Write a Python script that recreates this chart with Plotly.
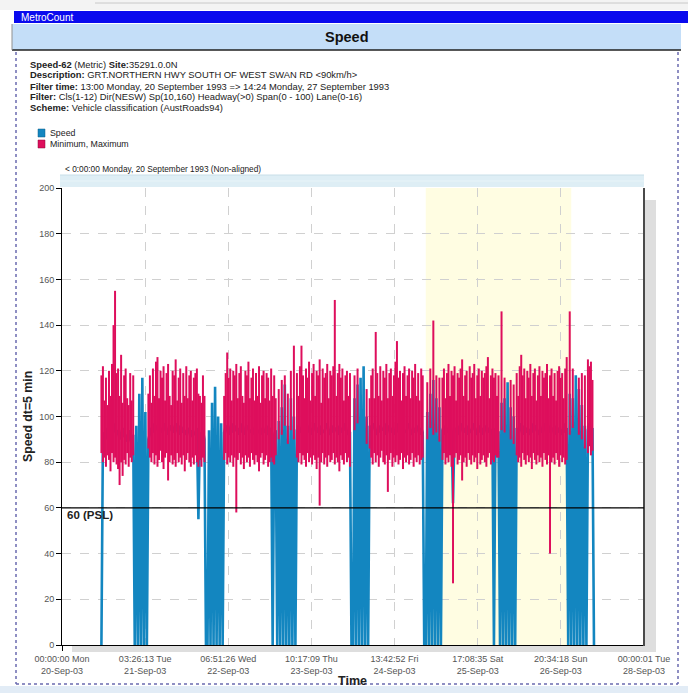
import plotly.graph_objects as go

# ---------------- DATA (5-min speed, aggregated to 30-min bins) ----------------
BIN_H = 0.5  # hours per bin

# Day start hours (from 00:00 Mon 20-Sep)
start_mon20, start_tue21, start_wed22, start_thu23 = 13.0, 24.0, 48.0, 72.0
start_fri24, start_sat25, start_sun26, start_mon27 = 96.0, 120.0, 144.0, 168.0

speed_mon20 = [0, 91, 93, 90, 95, 92, 94, 96, 93, 97, 92, 94, 90, 93, 95, 91, 92, 89, 94, 90, 88, 92]
max_mon20 = [118, 122, 107, 117, 105, 120, 109, 123, 140, 155, 119, 121, 109, 127, 106, 118, 121, 108, 105, 119, 107, 118]
min_mon20 = [84, 80, 82, 78, 83, 81, 76, 84, 80, 82, 79, 77, 70, 80, 74, 81, 79, 84, 78, 82, 80, 83]

speed_tue21 = [0, 96, 0, 110, 0, 117, 0, 102, 0, 90,
               92, 95, 93, 97, 94, 96, 92, 95, 93, 94,
               97, 95, 92, 96, 94, 93, 95, 97, 94, 92,
               96, 95, 93, 94, 92, 95, 93, 91, 94, 92,
               93, 95, 55, 93, 91, 94, 90, 0]
max_tue21 = [None, None, None, None, None, None, None, None, None, 110,
             118, 106, 121, 109, 124, 126, 108, 120, 117, 122,
             107, 119, 123, 109, 105, 120, 118, 125, 107, 117,
             121, 106, 119, 109, 122, 108, 118, 120, 107, 117,
             119, 121, 110, 109, 106, 118, 109, None]
min_tue21 = [None, None, None, None, None, None, None, None, None, 86,
             82, 80, 84, 79, 83, 78, 81, 85, 80, 77,
             82, 84, 72, 80, 83, 79, 81, 78, 84, 80,
             82, 79, 83, 76, 81, 84, 80, 78, 82, 79,
             83, 80, 78, 81, 78, 82, 80, None]

speed_wed22 = [0, 94, 0, 106, 0, 113, 0, 100, 0, 97,
               0, 93, 96, 94, 92, 95, 97, 93, 94, 96,
               92, 95, 93, 97, 94, 92, 96, 95, 93, 94,
               92, 95, 96, 93, 94, 92, 95, 93, 94, 96,
               92, 93, 95, 0, 92, 94, 0, 98]
max_wed22 = [None, None, None, None, None, None, None, None, None, None,
             None, 109, 119, 128, 117, 121, 107, 120, 118, 123,
             108, 119, 122, 109, 106, 120, 118, 124, 108, 117,
             121, 107, 119, 109, 122, 106, 118, 120, 108, 119,
             117, 107, 121, 109, 118, 108, None, 112]
min_wed22 = [None, None, None, None, None, None, None, None, None, None,
             None, 81, 84, 79, 82, 80, 83, 78, 82, 58,
             81, 84, 79, 82, 77, 83, 80, 82, 78, 84,
             81, 79, 83, 80, 76, 82, 84, 79, 81, 83,
             78, 80, 82, 80, 79, 83, None, 90]

speed_thu23 = [0, 104, 0, 114, 0, 96, 0, 108, 0, 100,
               0, 94, 96, 93, 95, 97, 92, 94, 96, 93,
               95, 92, 94, 97, 93, 95, 96, 92, 94, 93,
               95, 97, 94, 92, 96, 93, 95, 94, 92, 96,
               93, 95, 94, 97, 92, 94, 93, 0]
max_thu23 = [None, 116, None, 118, None, 110, None, 120, None, 131,
             None, 119, 109, 122, 131, 118, 108, 121, 117, 124,
             107, 119, 123, 109, 120, 118, 125, 106, 121, 117,
             119, 123, 108, 120, 118, 122, 151, 109, 119, 123,
             117, 121, 107, 118, 120, 109, 119, None]
min_thu23 = [None, 92, None, 96, None, 88, None, 94, None, 90,
             None, 82, 80, 84, 79, 83, 81, 78, 84, 80,
             82, 79, 83, 81, 77, 82, 61, 80, 84, 79,
             82, 78, 83, 80, 81, 84, 79, 82, 80, 76,
             83, 81, 79, 84, 80, 82, 78, None]

speed_fri24 = [0, 108, 0, 114, 0, 117, 0, 122, 0, 100,
               0, 96, 93, 95, 97, 94, 92, 96, 93, 95,
               94, 97, 92, 94, 96, 93, 95, 92, 94, 97,
               93, 95, 96, 92, 94, 93, 95, 97, 94, 92,
               95, 93, 96, 94, 92, 95, 93, 0]
max_fri24 = [None, 118, None, 121, None, None, None, None, None, 112,
             None, 108, 118, 121, 108, 137, 119, 109, 122, 107,
             120, 117, 123, 108, 119, 121, 109, 118, 124, 133,
             117, 120, 107, 119, 122, 109, 118, 121, 108, 120,
             117, 123, 109, 119, 107, 121, 118, None]
min_fri24 = [None, 94, None, 97, None, None, None, None, None, 88,
             None, 86, 82, 79, 84, 80, 83, 78, 82, 85,
             80, 79, 83, 67, 81, 84, 78, 82, 80, 83,
             79, 81, 84, 77, 82, 80, 83, 79, 81, 84,
             78, 82, 80, 83, 79, 81, 82, None]

speed_sat25 = [0, 102, 0, 110, 0, 116, 0, 108, 0, 104,
               0, 94, 96, 92, 95, 93, 97, 94, 62, 95,
               93, 96, 92, 94, 97, 93, 95, 92, 96, 94,
               93, 95, 97, 92, 94, 96, 93, 95, 92, 94,
               96, 93, 95, 94, 92, 0, 95, 93]
max_sat25 = [None, 115, None, 121, None, 142, None, 118, None, 117,
             None, 117, 121, 108, 119, 123, 109, 120, 118, 122,
             107, 119, 117, 121, 125, 109, 118, 120, 107, 122,
             117, 119, 123, 108, 118, 121, 109, 120, 117, 119,
             122, 126, 108, 118, 121, 117, 119, 109]
min_sat25 = [None, 90, None, 95, None, 92, None, 93, None, 89,
             None, 81, 84, 79, 82, 80, 83, 78, 27, 82,
             84, 79, 81, 83, 72, 80, 82, 78, 84, 81,
             79, 83, 80, 82, 77, 84, 79, 81, 83, 80,
             78, 82, 84, 79, 81, 80, 83, 82]

speed_sun26 = [93, 0, 106, 0, 108, 0, 115, 0, 104, 0,
               100, 0, 95, 93, 97, 94, 92, 96, 93, 95,
               94, 92, 97, 93, 95, 96, 92, 94, 93, 95,
               97, 94, 92, 96, 93, 95, 94, 92, 96, 93,
               95, 94, 92, 97, 93, 95, 0, 110]
max_sun26 = [118, None, 146, None, 117, None, None, None, 116, None,
             114, None, 119, 109, 122, 127, 118, 121, 108, 120,
             117, 123, 109, 119, 121, 107, 118, 122, 109, 120,
             117, 119, 123, 108, 118, 121, 109, 119, 107, 120,
             122, 117, 119, 108, 121, 126, None, 146]
min_sun26 = [82, None, 94, None, 93, None, None, None, 90, None,
             88, None, 83, 80, 82, 78, 84, 81, 79, 83,
             80, 82, 77, 84, 81, 79, 83, 80, 82, 78,
             84, 81, 79, 83, 40, 80, 82, 79, 84, 81,
             78, 83, 80, 82, 79, 81, None, 92]

speed_mon27 = [0, 108, 0, 118, 0, 112, 0, 105, 0, 96, 0, 94, 97, 93, 95, 0]
max_mon27 = [None, 121, None, None, None, 117, None, 119, None, 118, None, 125, 122, 124, 116, None]
min_mon27 = [None, 95, None, None, None, 92, None, 90, None, 86, None, 84, 87, 83, 85, None]

x_ticktext = ["00:00:00 Mon<br>20-Sep-03", "03:26:13 Tue<br>21-Sep-03", "06:51:26 Wed<br>22-Sep-03",
              "10:17:09 Thu<br>23-Sep-03", "13:42:52 Fri<br>24-Sep-03", "17:08:35 Sat<br>25-Sep-03",
              "20:34:18 Sun<br>26-Sep-03", "00:00:01 Tue<br>28-Sep-03"]
x_range_hours = 192.0
y_ticks = [0, 20, 40, 60, 80, 100, 120, 140, 160, 180, 200]
psl_speed = 60
weekend_start, weekend_end = 120.0, 168.0

# ---------------- BUILD ----------------
days = [
    (start_mon20, speed_mon20, min_mon20, max_mon20),
    (start_tue21, speed_tue21, min_tue21, max_tue21),
    (start_wed22, speed_wed22, min_wed22, max_wed22),
    (start_thu23, speed_thu23, min_thu23, max_thu23),
    (start_fri24, speed_fri24, min_fri24, max_fri24),
    (start_sat25, speed_sat25, min_sat25, max_sat25),
    (start_sun26, speed_sun26, min_sun26, max_sun26),
    (start_mon27, speed_mon27, min_mon27, max_mon27),
]
t_all, s_all, rx, ry = [], [], [], []
for start, sp, mn, mx in days:
    assert len(sp) == len(mn) == len(mx), (start, len(sp), len(mn), len(mx))
    for i, (s, a, b) in enumerate(zip(sp, mn, mx)):
        t = start + BIN_H * i
        t_all.append(t)
        s_all.append(s)
        if a is not None and b is not None:
            rx += [t, t, None]
            ry += [a, b, None]

W, H = 688, 693
L, R, T, B = 62, 644, 188, 645


def px(x):
    return (x - L) / (R - L)


def py(y):
    return (B - y) / (B - T)


FONT = "Liberation Sans, Arial, sans-serif"
BLUE = "#1386C0"
RED = "rgb(222,14,92)"
fig = go.Figure()
fig.add_trace(go.Scatter(x=t_all, y=s_all, mode="lines", line=dict(color=BLUE, width=2.6),
                         name="Speed", showlegend=False, hoverinfo="skip"))
fig.add_trace(go.Scatter(x=rx, y=ry, mode="lines", line=dict(color=RED, width=2.0),
                         name="Minimum, Maximum", showlegend=False, hoverinfo="skip"))

shapes = []


def rect(x0, y0, x1, y1, fill, line=None, layer="above"):
    shapes.append(dict(type="rect", xref="paper", yref="paper", x0=px(x0), x1=px(x1), y0=py(y1), y1=py(y0),
                       fillcolor=fill, line=dict(width=0) if line is None else line, layer=layer))


def hline(x0, x1, y, color, width=1, dash="solid"):
    shapes.append(dict(type="line", xref="paper", yref="paper", x0=px(x0), x1=px(x1), y0=py(y), y1=py(y),
                       line=dict(color=color, width=width, dash=dash)))


def vline(x, y0, y1, color, width=1, dash="solid"):
    shapes.append(dict(type="line", xref="paper", yref="paper", x0=px(x), x1=px(x), y0=py(y0), y1=py(y1),
                       line=dict(color=color, width=width, dash=dash)))


# window chrome
rect(0, 0, 688, 10, "#f3f3f3")
hline(95, 688, 3, "#c8c8c8", 1)
rect(14, 11, 688, 23, "#0A0AEE")
rect(12, 24, 681, 50, "rgb(196,222,248)")
hline(12, 681, 50, "#202020", 1.5)
vline(12, 24, 50, "#909090", 1)
# dotted panel border
vline(16, 52, 684, "#6b6bb0", 1.5, "dot")
vline(678, 52, 684, "#6b6bb0", 1.5, "dot")
hline(16, 678, 684, "#6b6bb0", 1.5, "dot")
rect(0, 686, 688, 693, "rgb(226,236,246)")
# legend squares
rect(38, 129, 45, 137, BLUE, dict(color="#0d5f8a", width=0.5))
rect(38, 140, 45, 148, RED, dict(color="#8a0a3a", width=0.5))
# band above plot
rect(60, 175, 644, 187, "rgb(222,238,245)")
hline(60, 644, 175, "rgb(200,222,232)", 1)
hline(60, 644, 181, "rgb(232,244,248)", 1)
# shadows
rect(645, 200, 656, 652, "#dedede")
rect(72, 646, 656, 652, "#dedede")
# right border
vline(644, 188, 646, "#4a4a4a", 2)
# weekend shading
shapes.append(dict(type="rect", xref="x", yref="paper", x0=weekend_start, x1=weekend_end, y0=0, y1=1,
                   fillcolor="rgb(255,253,226)", line=dict(width=0), layer="below"))
# PSL line
shapes.append(dict(type="line", xref="paper", yref="y", x0=0, x1=1, y0=psl_speed, y1=psl_speed,
                   line=dict(color="black", width=1.2)))

ann = []


def text(x, y, s, size, xanchor="left", color="#222", angle=0):
    ann.append(dict(xref="paper", yref="paper", x=px(x), y=py(y), text=s, showarrow=False,
                    xanchor=xanchor, yanchor="middle", textangle=angle,
                    font=dict(family=FONT, size=size, color=color)))


text(19, 17, "MetroCount", 10, color="#ffffff")
text(347, 37, "<b>Speed</b>", 14.5, xanchor="center", color="#111")
HS = 9.4
text(28, 64, "<b>Speed-62</b> (Metric) <b>Site:</b>35291.0.0N", HS)
text(28, 75, "<b>Description:</b> GRT.NORTHERN HWY SOUTH OF WEST SWAN RD &lt;90km/h&gt;", HS)
text(28, 86, "<b>Filter time:</b> 13:00 Monday, 20 September 1993 =&gt; 14:24 Monday, 27 September 1993", HS)
text(28, 97, "<b>Filter:</b> Cls(1-12) Dir(NESW) Sp(10,160) Headway(&gt;0) Span(0 - 100) Lane(0-16)", HS)
text(28, 108, "<b>Scheme:</b> Vehicle classification (AustRoads94)", HS)
text(48, 133, "Speed", 8.8)
text(48, 144, "Minimum, Maximum", 8.8)
text(63, 169, "&lt; 0:00:00 Monday, 20 September 1993 (Non-aligned)", 8.3)
text(65, 515, "<b>60 (PSL)</b>", 11.5, color="#222")
text(28, 417, "<b>Speed dt=5 min</b>", 12.3, xanchor="center", angle=-90)
text(352, 681, "<b>Time</b>", 12.5, xanchor="center")

axis_common = dict(showline=True, linecolor="black", linewidth=1, ticks="outside", ticklen=5,
                   tickcolor="black", showgrid=True, gridcolor="#d0d0d0", griddash="dash", gridwidth=1,
                   zeroline=False, automargin=False, tickfont=dict(family=FONT, size=9, color="#555"),
                   fixedrange=True)

fig.update_layout(
    width=W, height=H, autosize=False,
    margin=dict(l=L, r=W - R, t=T, b=H - B, pad=0),
    paper_bgcolor="white", plot_bgcolor="white",
    showlegend=False, hovermode=False,
    xaxis=dict(range=[0, x_range_hours], tickvals=[x_range_hours / 7 * k for k in range(8)],
               ticktext=x_ticktext, **axis_common),
    yaxis=dict(range=[0, 200], tickvals=y_ticks, **axis_common),
    shapes=shapes, annotations=ann,
)

fig.write_html("out.html", config={"displayModeBar": False},
               post_script="document.body.style.margin='0';document.body.style.overflow='hidden';")
